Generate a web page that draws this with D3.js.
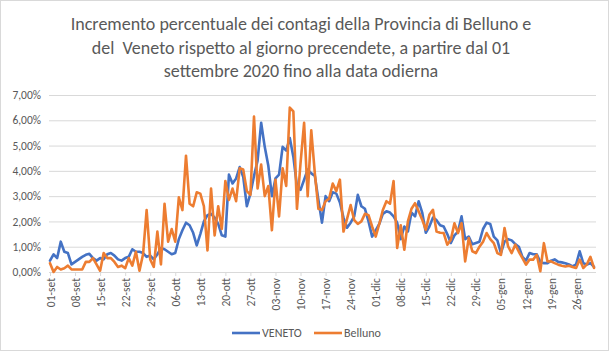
<!DOCTYPE html>
<html>
<head>
<meta charset="utf-8">
<script src="https://cdn.jsdelivr.net/npm/d3@7"></script>
<style>
  html, body { margin: 0; padding: 0; background: #fff; }
  svg text { font-family: Calibri, Carlito, Lato, sans-serif; fill: #595959; }
</style>
</head>
<body>
<svg id="chart" width="610" height="353"></svg>
<script>
const TITLE_LINES = [
    "Incremento percentuale dei contagi della Provincia di Belluno e",
    "del  Veneto rispetto al giorno precendete, a partire dal 01",
    "settembre 2020 fino alla data odierna"
];

// first and last day of the series (one value per day)
const START_DAY = new Date(2020, 8, 1);
const END_DAY = new Date(2021, 0, 31);

const SERIES_NAMES = ["VENETO", "Belluno"];

// daily increment, percent
const venetoValues = [
    0.45, 0.70, 0.55, 1.20, 0.80, 0.75, 0.30, 0.40, 0.50, 0.60,
    0.68, 0.72, 0.55, 0.45, 0.55, 0.50, 0.70, 0.75, 0.65, 0.50,
    0.45, 0.55, 0.60, 0.90, 0.80, 0.80, 0.75, 0.60, 0.65, 0.50,
    0.70, 0.95, 0.90, 0.80, 0.70, 0.75, 1.30, 1.65, 1.95, 1.85,
    1.55, 1.05, 1.50, 2.00, 2.25, 2.30, 2.15, 1.90, 1.45, 1.40,
    3.85, 3.50, 3.70, 4.15, 3.75, 2.60, 3.10, 3.80, 4.40, 5.90,
    4.95, 4.20, 3.00, 3.70, 3.85, 4.95, 4.80, 5.30, 4.55, 3.40,
    3.25, 3.65, 4.05, 3.90, 3.80, 2.85, 1.95, 3.00, 2.80, 3.15,
    3.10, 2.75, 2.15, 1.75, 1.95, 2.20, 3.05, 2.60, 2.50, 2.00,
    1.40, 1.65, 1.90, 2.30, 2.40, 2.35, 2.20, 1.95, 1.30, 1.80,
    1.60, 2.35, 2.20, 2.80, 2.35, 1.55, 1.80, 2.15, 2.05, 1.85,
    1.80, 1.50, 1.15, 1.45, 1.60, 2.20, 1.30, 1.40, 1.10, 1.15,
    1.20, 1.70, 1.95, 1.90, 1.40, 1.25, 0.75, 1.20, 1.30, 1.25,
    1.10, 1.00, 0.60, 0.45, 0.75, 0.70, 0.70, 0.40, 0.35, 0.35,
    0.45, 0.50, 0.40, 0.38, 0.35, 0.30, 0.22, 0.30, 0.82, 0.35,
    0.30, 0.35, 0.20
];

const bellunoValues = [
    0.35, 0.00, 0.20, 0.10, 0.15, 0.25, 0.10, 0.10, 0.10, 0.10,
    0.40, 0.40, 0.55, 0.30, 0.05, 0.75, 0.55, 0.55, 0.40, 0.20,
    0.25, 0.15, 0.55, 0.25, 0.80, 0.05, 0.70, 2.45, 0.50, 0.20,
    1.60, 0.30, 2.70, 1.20, 1.70, 1.20, 2.95, 2.45, 4.60, 2.70,
    2.60, 3.15, 3.10, 2.60, 0.85, 3.30, 1.45, 2.60, 1.70, 3.60,
    2.85, 3.30, 2.80, 4.10, 4.05, 3.20, 3.05, 6.15, 3.30, 4.25,
    3.00, 3.40, 1.65, 3.65, 2.20, 4.10, 3.40, 6.50, 6.35, 2.50,
    4.30, 5.90, 3.00, 5.60, 3.90, 2.50, 2.45, 2.80, 2.90, 3.50,
    3.20, 3.65, 1.60, 2.10, 2.65, 2.05, 1.90, 2.00, 2.30, 2.25,
    1.80, 1.40, 1.90, 2.45, 2.80, 2.70, 3.60, 0.95, 1.85, 0.88,
    2.00, 2.50, 2.72, 2.40, 2.07, 1.67, 2.26, 2.46, 1.60, 1.55,
    1.54, 1.08, 1.28, 1.93, 1.54, 1.93, 0.42, 1.34, 0.82, 0.75,
    1.00, 1.20, 1.54, 1.30, 1.14, 0.75, 0.68, 1.74, 1.01, 0.75,
    1.08, 0.80, 0.55, 0.29, 0.49, 0.49, 0.68, 0.03, 1.14, 0.42,
    0.42, 0.35, 0.29, 0.25, 0.22, 0.25, 0.20, 0.16, 0.49, 0.16,
    0.30, 0.60, 0.16
];

// x tick labels, one every 7 days from START_DAY
const xTickLabels = [
    "01-set", "08-set", "15-set", "22-set", "29-set", "06-ott", "13-ott",
    "20-ott", "27-ott", "03-nov", "10-nov", "17-nov", "24-nov", "01-dic",
    "08-dic", "15-dic", "22-dic", "29-dic", "05-gen", "12-gen", "19-gen",
    "26-gen"
];

const yTicks = [0, 0.01, 0.02, 0.03, 0.04, 0.05, 0.06, 0.07];

const COLORS = ["#4472C4", "#ED7D31"];

// Chart
// ----------------------------------------
function lineChart() {
    let width = 610,
        height = 353,
        plot = { left: 50, right: 594, top: 95, bottom: 272 };

    function chart(selector) {
        const svg = d3.select(selector);

        const days = d3.timeDay.range(START_DAY, d3.timeDay.offset(END_DAY, 1));
        const series = [venetoValues, bellunoValues].map((vals, i) => ({
            name: SERIES_NAMES[i],
            color: COLORS[i],
            points: vals.map((v, j) => ({ date: days[j], value: v / 100 }))
        }));

        const x = d3.scaleTime()
            .domain([START_DAY, END_DAY])
            .range([plot.left, plot.right]);
        const y = d3.scaleLinear()
            .domain([0, 0.07])
            .range([plot.bottom, plot.top]);

        const itLocale = d3.formatLocale({
            decimal: ",", thousands: ".", grouping: [3], currency: ["€", ""]
        });
        const pct = itLocale.format(".2%");

        // outer border
        svg.append("rect")
            .attr("x", 0.5).attr("y", 0.5)
            .attr("width", width - 2).attr("height", height - 3)
            .attr("fill", "#fff")
            .attr("stroke", "#D9D9D9");

        // title (keep the double space of the original)
        svg.append("g")
            .selectAll("text")
            .data(TITLE_LINES)
            .join("text")
            .attr("x", 301)
            .attr("y", (d, i) => 30 + i * 23.5)
            .attr("text-anchor", "middle")
            .style("white-space", "pre")
            .style("font-size", "18px")
            .text(d => d);

        // y grid + labels
        const yAxis = d3.axisLeft(y)
            .tickValues(yTicks)
            .tickFormat(pct)
            .tickSize(-(plot.right - plot.left + 3))
            .tickPadding(8);

        svg.append("g")
            .attr("transform", `translate(${plot.left - 1},0)`)
            .call(yAxis)
            .call(g => g.select(".domain").remove())
            .call(g => g.selectAll(".tick line")
                .attr("stroke", "#D9D9D9"))
            .call(g => g.selectAll(".tick text")
                .style("font-size", "11.5px")
                .style("font-family", "Calibri, Carlito, Lato, sans-serif")
                .attr("fill", "#595959"));

        // x axis
        const tickDates = xTickLabels.map((d, i) => d3.timeDay.offset(START_DAY, i * 7));
        const xAxis = d3.axisBottom(x)
            .tickValues(tickDates)
            .tickFormat((d, i) => xTickLabels[i])
            .tickSize(4)
            .tickSizeOuter(0);

        svg.append("g")
            .attr("transform", `translate(0,${plot.bottom})`)
            .call(xAxis)
            .call(g => g.select(".domain")
                .attr("stroke", "#D9D9D9")
                .attr("d", `M${plot.left - 1},0.5H${plot.right + 2}`))
            .call(g => g.selectAll(".tick line").attr("stroke", "#D9D9D9"))
            .call(g => g.selectAll(".tick text")
                .attr("transform", "rotate(-90)")
                .attr("x", -6)
                .attr("y", 0)
                .attr("dy", "0.35em")
                .style("text-anchor", "end")
                .style("font-size", "11.5px")
                .style("font-family", "Calibri, Carlito, Lato, sans-serif")
                .attr("fill", "#595959"));

        // lines
        const line = d3.line()
            .x(d => x(d.date))
            .y(d => y(d.value));

        svg.append("g")
            .selectAll("path")
            .data(series)
            .join("path")
            .attr("fill", "none")
            .attr("stroke", d => d.color)
            .attr("stroke-width", 2.6)
            .attr("stroke-linejoin", "round")
            .attr("stroke-linecap", "round")
            .attr("d", d => line(d.points));

        // legend
        const legend = svg.append("g")
            .attr("transform", "translate(232,333)");
        const item = legend.selectAll("g")
            .data(series)
            .join("g")
            .attr("transform", (d, i) => `translate(${i * 82},0)`);
        item.append("line")
            .attr("x1", 0).attr("x2", 28)
            .attr("stroke", d => d.color)
            .attr("stroke-width", 2.6);
        item.append("text")
            .attr("x", 30)
            .attr("dy", "0.35em")
            .style("font-size", "12px")
            .text(d => d.name);
    }

    chart.width = function(_) {
        if (!arguments.length)
            return width;
        width = _;
        return chart;
    };

    return chart;
}

lineChart()("#chart");
</script>
</body>
</html>
